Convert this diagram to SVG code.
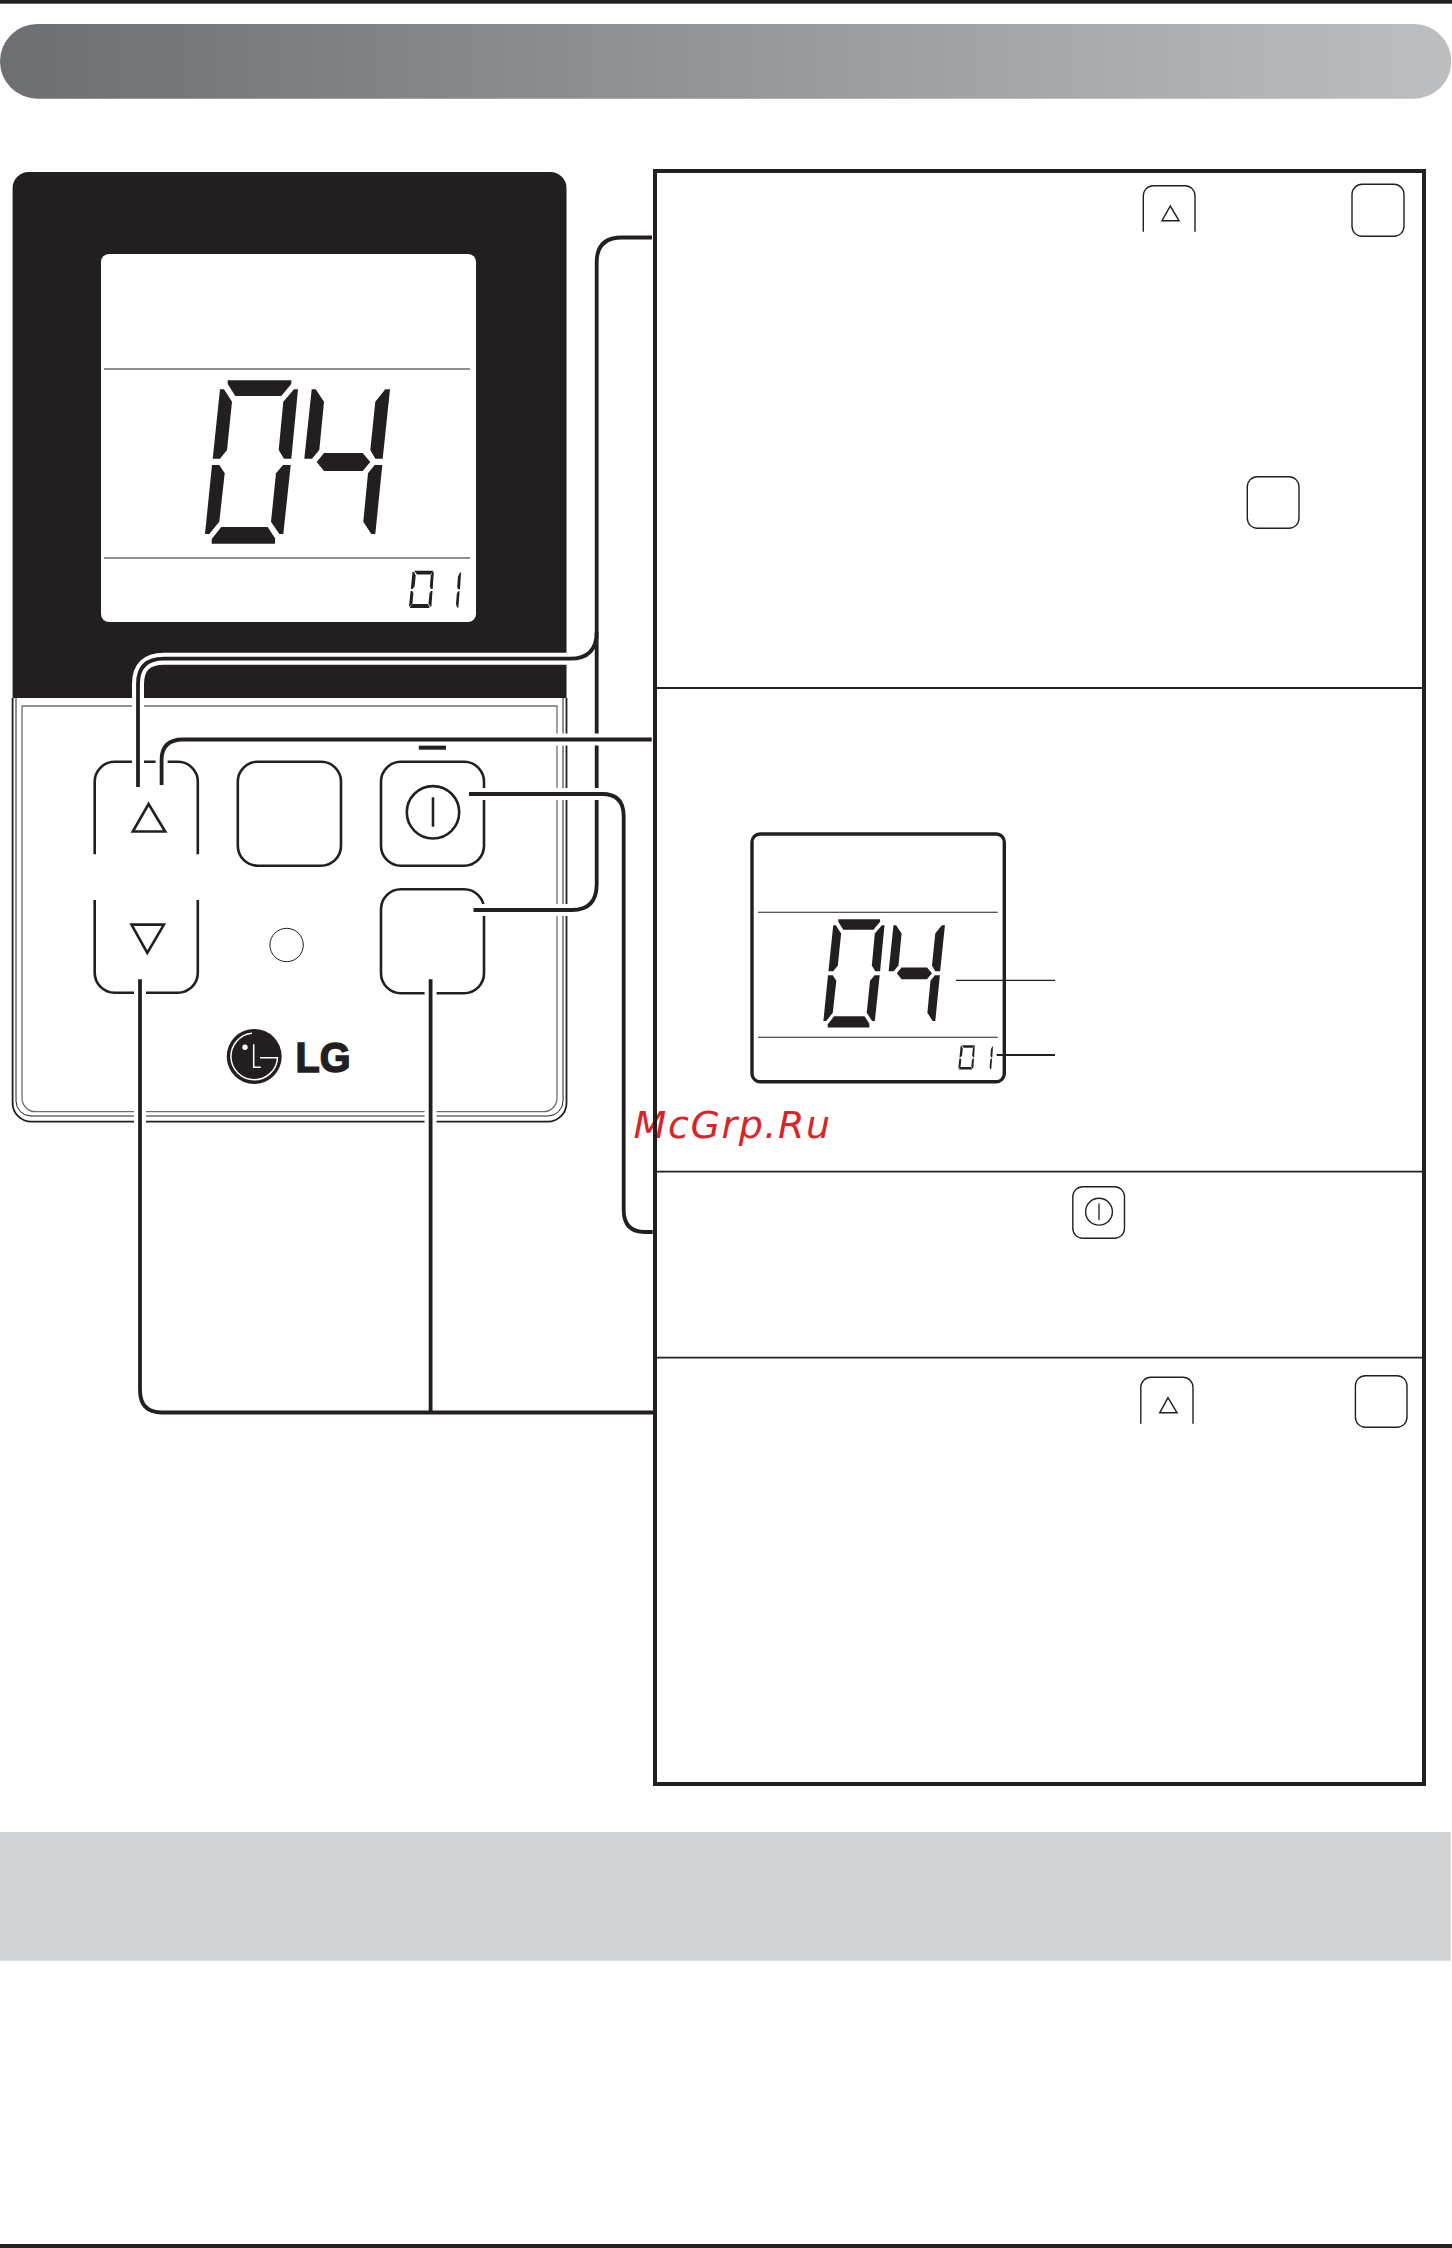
<svg xmlns="http://www.w3.org/2000/svg" xmlns:xlink="http://www.w3.org/1999/xlink" width="1452" height="2248" viewBox="0 0 1452 2248">
<style>
.ink{fill:#231f20;stroke:none}
.btn{fill:#fff;stroke:#231f20;stroke-width:2.6}
.open{fill:none;stroke:#231f20;stroke-width:2.6}
.ico{fill:#fff;stroke:#231f20;stroke-width:1.5}
.hair{fill:none;stroke:#231f20;stroke-width:1.4}
.case{fill:none;stroke:#fff;stroke-width:12}
.wire{fill:none;stroke:#231f20;stroke-width:3.8}
.wlogo{fill:none;stroke:#fff;stroke-width:1.5}
</style>
<defs>
<linearGradient id="hdr" x1="0" y1="0" x2="1" y2="0"><stop offset="0" stop-color="#6d6e71"/><stop offset="1" stop-color="#bcbec0"/></linearGradient>
<g id="big04" class="ink">
<polygon points="227.7,380.3 291.3,380.3 291.3,384 281.3,396 235.3,396 227.7,384"/>
<polygon points="220,389.3 224,389.3 232,401.7 227,450 220,458.7 212.7,458.7"/>
<polygon points="298,389.3 294,389.3 283.3,401.7 278.7,450 284,458.7 291.3,458.7"/>
<polygon points="212,465 219.3,465 224.7,473.3 219.3,521.7 209.3,534 205,534"/>
<polygon points="283,465 290.7,465 283.3,534 279.3,534 271,521.7 276,473.3"/>
<polygon points="221.3,527 267.7,527 275,538.3 275,543.7 211.7,543.7 211.7,539"/>
<polygon points="311.7,389.3 315.7,389.3 324,401.7 319.3,450 312,458.7 304.3,458.7"/>
<polygon points="316.7,462 324,453 362.7,453 370.3,462 362.7,471 324,471"/>
<polygon points="390,389.3 385.3,389.3 375.3,401.7 370.3,450 375.3,458.7 382.7,458.7"/>
<polygon points="374.7,465 382.3,465 375.3,534 371.3,534 363.3,521.7 368,473.3"/>
</g>
<g id="small01" class="ink">
<polygon points="414,570.8 433.5,570.8 430.5,574.5 417,574.5"/>
<polygon points="412.5,572 414,572 415.7,575.5 414.6,586.5 412.5,589 410.8,589"/>
<polygon points="433.8,572 432.4,572 430.8,575.5 429.8,586.5 431,589 432.7,589"/>
<polygon points="410.6,591 412.4,591 413.4,593.5 412.4,603.5 409.9,606.5 409,606.5"/>
<polygon points="430.9,591 432.5,591 431.4,606.5 430.2,606.5 428.5,603.5 429.5,593.5"/>
<polygon points="412,604 427.8,604 429.4,606.5 429.4,608 409.7,608"/>
<polygon points="461,572.5 460,572.5 458,576.5 457.2,587 458.2,589.2 460,589.2"/>
<polygon points="459.6,591.2 458.1,591.2 456.8,594 456,604 457,607.6 458.4,607.6"/>
</g>
</defs>

<g id="page">
<rect x="0" y="0" width="1452" height="3.7" fill="#231f20"/>
<rect x="0" y="24" width="1451.3" height="74.7" rx="37.3" ry="37.3" fill="url(#hdr)"/>
<rect x="0" y="1832" width="1450.7" height="128.7" fill="#d1d2d4"/>
<rect x="0" y="2244" width="1452" height="4" fill="#231f20"/>
</g>

<g id="remote">
<path d="M12.6 698 V188 A16 16 0 0 1 28.6 172 H550.5 A16 16 0 0 1 566.5 188 V698 Z" fill="#231f20"/>
<path d="M12.6 698 V1103 A18.7 18.7 0 0 0 31.3 1121.7 H547.8 A18.7 18.7 0 0 0 566.5 1103 V698" fill="none" stroke="#231f20" stroke-width="1.8"/>
<path d="M16 698 V1101 A15 15 0 0 0 31 1116 H548 A15 15 0 0 0 563 1101 V698" fill="none" stroke="#231f20" stroke-width="1"/>
<path d="M22 706 H557 V1098 A13.7 13.7 0 0 1 543.3 1111.7 H35.7 A13.7 13.7 0 0 1 22 1098 Z" fill="#fff" stroke="#6d6e71" stroke-width="1.3"/>
</g>

<g id="lcd-main">
<rect x="101" y="254" width="375" height="368" rx="8" fill="#fff"/>
<line x1="104" y1="369" x2="470" y2="369" stroke="#231f20" stroke-width="1.2"/>
<line x1="104" y1="558" x2="470" y2="558" stroke="#231f20" stroke-width="1.2"/>
<use href="#big04" xlink:href="#big04"/>
<use href="#small01" xlink:href="#small01"/>
</g>

<g id="btn-up">
<path class="open" d="M94.7 854.3 V781.7 A20 20 0 0 1 114.7 761.7 H177.8 A20 20 0 0 1 197.8 781.7 V854.3"/>
<polygon class="btn" points="148.6,804 132.8,831.5 165.2,831.5"/>
</g>
<g id="btn-down">
<path class="open" d="M94.7 900 V972.7 A20 20 0 0 0 114.7 992.7 H177.8 A20 20 0 0 0 197.8 972.7 V900"/>
<polygon class="btn" points="131.5,924.6 163.9,924.6 147.3,953"/>
</g>
<g id="btn-mid"><rect class="btn" x="237.8" y="761.7" width="103.2" height="104" rx="20"/></g>
<g id="btn-power">
<rect class="btn" x="381" y="761.7" width="103" height="104" rx="20"/>
<circle class="btn" cx="433" cy="812.3" r="26.2"/>
<line x1="433" y1="797.3" x2="433" y2="826.7" stroke="#231f20" stroke-width="2.6"/>
<rect class="ink" x="418.8" y="745.3" width="27.2" height="4.4"/>
</g>
<g id="btn-set"><rect class="btn" x="381" y="889.3" width="103" height="104" rx="20"/></g>
<g id="led"><circle cx="286.6" cy="945" r="16.7" fill="#fff" stroke="#231f20" stroke-width="1"/></g>
<g id="logo">
<circle class="ink" cx="254.2" cy="1056.5" r="27.5"/>
<path class="wlogo" d="M252 1033.3 A23.3 23.3 0 1 0 277.5 1057.7 H260"/>
<path class="wlogo" d="M253.7 1044.3 V1067.3 H260.7"/>
<circle cx="245" cy="1047.3" r="2.7" fill="#fff"/>
<text x="295.5" y="1072" font-family="'Liberation Sans',Arial,sans-serif" font-weight="700" font-size="43" textLength="55" lengthAdjust="spacingAndGlyphs" fill="#231f20" stroke="#231f20" stroke-width="1.6">LG</text>
</g>

<text id="watermark" x="633.5" y="1138" font-family="'DejaVu Sans',sans-serif" font-style="italic" font-size="38" letter-spacing="1.6" fill="#d9242a">McGrp.Ru</text>

<g id="lcd-small">
<rect x="752" y="834" width="252.3" height="247.7" rx="8" fill="#fff" stroke="#231f20" stroke-width="3.4"/>
<line x1="758" y1="912.3" x2="997.7" y2="912.3" stroke="#231f20" stroke-width="1.1"/>
<line x1="758" y1="1037.3" x2="997.7" y2="1037.3" stroke="#231f20" stroke-width="1.1"/>
<use href="#big04" xlink:href="#big04" transform="matrix(0.657 0 0 0.662 688.7 667.5)"/>
<use href="#small01" xlink:href="#small01" transform="matrix(0.667 0 0 0.65 685.5 674.3)"/>
</g>

<g id="connectors">
<path class="case" d="M596.7 632 Q596.7 658.7 570 658.7 H164 Q138 658.7 138 684 V787"/>
<path class="case" d="M652 237.5 H622 Q596.7 237.5 596.7 262 V884 Q596.7 910 572 910 H473.5"/>
<path class="wire" d="M596.7 632 Q596.7 658.7 570 658.7 H164 Q138 658.7 138 684 V787"/>
<path class="wire" d="M652 237.5 H622 Q596.7 237.5 596.7 262 V884 Q596.7 910 572 910 H473.5"/>
<path class="case" d="M651.7 739.5 H183 Q161.6 739.5 161.6 760 V785"/>
<path class="wire" d="M651.7 739.5 H183 Q161.6 739.5 161.6 760 V785"/>
<path class="case" d="M469 794 H602 Q623.7 794 623.7 816 V1210 Q623.7 1232 645 1232 H652.7"/>
<path class="wire" d="M469 794 H602 Q623.7 794 623.7 816 V1210 Q623.7 1232 645 1232 H652.7"/>
<path class="case" d="M653 1412.5 H162 Q140 1412.5 140 1390 V979.3"/>
<path class="case" d="M430.6 979.3 V1412.5"/>
<path class="wire" d="M653 1412.5 H162 Q140 1412.5 140 1390 V979.3"/>
<path class="wire" d="M430.6 979.3 V1412.5"/>
<line x1="956" y1="980.3" x2="1055" y2="980.3" stroke="#231f20" stroke-width="1.2"/>
<line x1="996.7" y1="1055" x2="1055" y2="1055" stroke="#231f20" stroke-width="2"/>
</g>

<g id="steps">
<rect x="655" y="171" width="769" height="1613" fill="none" stroke="#231f20" stroke-width="4"/>
<line x1="655" y1="688" x2="1424" y2="688" stroke="#231f20" stroke-width="1.8"/>
<line x1="655" y1="1171.7" x2="1424" y2="1171.7" stroke="#231f20" stroke-width="1.8"/>
<line x1="655" y1="1357.7" x2="1424" y2="1357.7" stroke="#231f20" stroke-width="1.8"/>
</g>

<g id="step1-icons">
<path class="hair" d="M1143.3 231.7 V195.7 A10 10 0 0 1 1153.3 185.7 H1185 A10 10 0 0 1 1195 195.7 V231.7"/>
<polygon class="ico" points="1170.3,206 1162,220.7 1179,220.7"/>
<rect class="hair" x="1352" y="184.3" width="52" height="52" rx="10"/>
<rect class="hair" x="1247.3" y="476.7" width="51.7" height="51.6" rx="10"/>
</g>

<g id="step3-icon">
<rect class="hair" x="1072.8" y="1186.7" width="51.7" height="51.6" rx="10"/>
<circle class="hair" cx="1099" cy="1211.7" r="13.4"/>
<line x1="1099" y1="1203.5" x2="1099" y2="1220" stroke="#231f20" stroke-width="1.3"/>
</g>

<g id="step4-icons">
<path class="hair" d="M1140.8 1423.7 V1387.3 A10 10 0 0 1 1150.8 1377.3 H1183 A10 10 0 0 1 1193 1387.3 V1423.7"/>
<polygon class="ico" points="1168,1397.7 1159.8,1412.7 1177,1412.7"/>
<rect class="hair" x="1355.4" y="1375.7" width="51.6" height="51.6" rx="10"/>
</g>
</svg>
